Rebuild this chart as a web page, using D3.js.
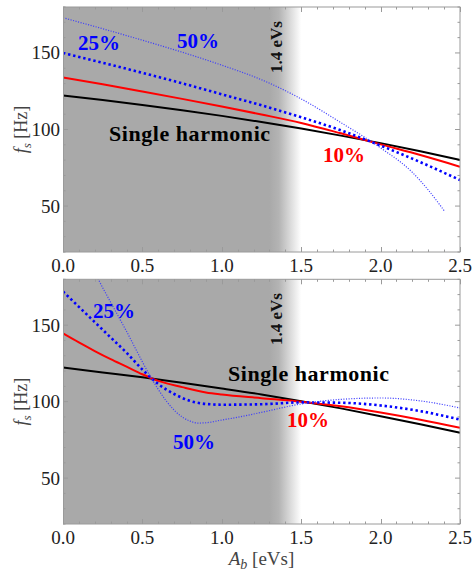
<!DOCTYPE html>
<html><head><meta charset="utf-8">
<script src="https://cdn.jsdelivr.net/npm/d3@7"></script>
<style>body{margin:0;background:#fff}</style>
</head><body>
<svg id="c" width="472" height="574" xmlns="http://www.w3.org/2000/svg"></svg>
<script>
// ---------- data ----------
const xDomain = [0, 2.5];
const yDomain = [20, 180];
const shadeSolidEnd = 1.3;
const shadeFadeEnd = 1.5;
const markerText = "1.4 eVs";
const xMajorTicks = [0, 0.5, 1.0, 1.5, 2.0, 2.5];
const yMajorTicks = [50, 100, 150];
const seriesNames = ["Single harmonic", "10%", "25%", "50%"];

// top panel
const topSingleX = [0, 0.25, 0.5, 0.75, 1.0, 1.25, 1.5, 1.75, 2.0, 2.25, 2.5];
const topSingleY = [122.2, 119.2, 116.0, 112.6, 108.9, 104.9, 100.6, 96.0, 91.1, 85.8, 80.1];
const topTenX = [0, 0.25, 0.5, 0.75, 1.0, 1.25, 1.5, 1.75, 2.0, 2.25, 2.5];
const topTenY = [134.0, 129.5, 124.8, 120.0, 115.0, 109.8, 104.3, 97.5, 90.3, 83.3, 75.7];
const topTwentyFiveX = [0, 0.25, 0.5, 0.75, 1.0, 1.25, 1.5, 1.75, 2.0, 2.25, 2.5];
const topTwentyFiveY = [150.0, 143.6, 137.0, 130.2, 123.0, 115.8, 108.0, 99.5, 89.5, 78.7, 67.0];
const topFiftyX = [0, 0.25, 0.5, 0.75, 1.0, 1.25, 1.5, 1.75, 2.0, 2.2, 2.3, 2.4];
const topFiftyY = [173.0, 165.8, 158.3, 150.5, 142.0, 132.5, 120.0, 104.5, 88.0, 72.0, 60.5, 47.0];

// bottom panel
const botSingleX = [0, 0.25, 0.5, 0.75, 1.0, 1.25, 1.5, 1.75, 2.0, 2.25, 2.5];
const botSingleY = [122.3, 119.1, 115.9, 112.3, 108.6, 104.7, 100.3, 95.6, 90.5, 85.2, 79.7];
const botTenX = [0, 0.1, 0.2, 0.3, 0.4, 0.5, 0.6, 0.75, 0.9, 1.0, 1.25, 1.5, 1.75, 2.0, 2.25, 2.5];
const botTenY = [144.6, 138.7, 133.1, 127.8, 122.9, 117.9, 113.6, 109.5, 106.0, 104.6, 102.3, 100.0, 97.0, 92.9, 88.2, 82.9];
const botTwentyFiveX = [0, 0.1, 0.2, 0.3, 0.4, 0.5, 0.6, 0.7, 0.8, 0.9, 1.0, 1.25, 1.5, 1.75, 2.0, 2.25, 2.5];
const botTwentyFiveY = [172.0, 162.0, 152.0, 142.0, 132.0, 121.0, 111.5, 105.0, 100.5, 98.5, 98.0, 98.3, 99.5, 99.3, 97.5, 93.8, 88.3];
const botFiftyX = [0.15, 0.2, 0.25, 0.3, 0.35, 0.4, 0.45, 0.5, 0.55, 0.6, 0.65, 0.7, 0.75, 0.8, 0.85, 0.9, 1.0, 1.1, 1.25, 1.5, 1.75, 2.0, 2.25, 2.5];
const botFiftyY = [194.0, 184.5, 174.5, 165.0, 155.5, 146.0, 136.0, 126.0, 116.5, 108.0, 100.5, 94.5, 90.0, 87.3, 86.0, 86.2, 88.0, 89.8, 93.0, 98.5, 101.5, 102.4, 100.5, 95.9];

// ---------- layout ----------
const svg = d3.select("#c");
svg.append("rect").attr("width", 472).attr("height", 574).attr("fill", "#fff");
const left = 63, right = 460;
const panels = [
  { top: 7, bottom: 252,
    series: [[topSingleX, topSingleY], [topTenX, topTenY], [topTwentyFiveX, topTwentyFiveY], [topFiftyX, topFiftyY]],
    labels: [
      { t: "25%", x: 0.094, y: 151.6, c: "#0000ff" },
      { t: "50%", x: 0.718, y: 152.9, c: "#0000ff" },
      { t: "Single harmonic", x: 0.29, y: 92.2, c: "#000", len: 161 },
      { t: "10%", x: 1.637, y: 79.1, c: "#ff0000" }
    ],
    marker: { x: 1.38, y: 136.9 }
  },
  { top: 279.3, bottom: 524,
    series: [[botSingleX, botSingleY], [botTenX, botTenY], [botTwentyFiveX, botTwentyFiveY], [botFiftyX, botFiftyY]],
    labels: [
      { t: "25%", x: 0.189, y: 154.4, c: "#0000ff" },
      { t: "50%", x: 0.693, y: 69.3, c: "#0000ff" },
      { t: "Single harmonic", x: 1.039, y: 113.2, c: "#000", len: 161 },
      { t: "10%", x: 1.411, y: 83.7, c: "#ff0000" }
    ],
    marker: { x: 1.38, y: 137.0 }
  }
];

const styles = [
  { stroke: "#000", w: 2, dash: null, op: 1 },
  { stroke: "#ff0000", w: 2, dash: null, op: 1 },
  { stroke: "#0000ff", w: 2.6, dash: "2.4,2.8", op: 1 },
  { stroke: "#3a3aff", w: 1.2, dash: "1.1,1.5", op: 0.95 }
];

const x = d3.scaleLinear().domain(xDomain).range([left, right]);
const defs = svg.append("defs");
const grad = defs.append("linearGradient").attr("id", "shade").attr("gradientUnits", "userSpaceOnUse")
  .attr("x1", x(0)).attr("x2", x(shadeFadeEnd)).attr("y1", 0).attr("y2", 0);
grad.append("stop").attr("offset", shadeSolidEnd / shadeFadeEnd).attr("stop-color", "#a9a9a9");
grad.append("stop").attr("offset", (shadeSolidEnd + 0.06) / shadeFadeEnd).attr("stop-color", "#b4b4b4");
grad.append("stop").attr("offset", 1).attr("stop-color", "#ffffff");

const serif = "'Liberation Serif', 'Times New Roman', serif";
const frameColor = "#9a9a9a";

panels.forEach((p, i) => {
  const y = d3.scaleLinear().domain(yDomain).range([p.bottom, p.top]);
  const g = svg.append("g");
  const cid = "clip" + i;
  defs.append("clipPath").attr("id", cid).append("rect")
    .attr("x", left).attr("y", p.top).attr("width", right - left).attr("height", p.bottom - p.top);

  // shading
  g.append("rect").attr("x", x(0)).attr("y", p.top).attr("width", x(shadeFadeEnd) - x(0))
    .attr("height", p.bottom - p.top).attr("fill", "url(#shade)");

  // ticks (all four sides, inside)
  const tg = g.append("g").attr("stroke", frameColor).attr("stroke-width", 1);
  d3.range(0, 26).forEach(k => {
    const v = k / 10, major = k % 5 === 0, len = major ? 5 : 2.5;
    const px = Math.round(x(v)) + 0.5;
    tg.append("line").attr("x1", px).attr("x2", px).attr("y1", p.bottom).attr("y2", p.bottom - len);
    tg.append("line").attr("x1", px).attr("x2", px).attr("y1", p.top).attr("y2", p.top + len);
  });
  d3.range(20, 181, 10).forEach(v => {
    const major = v % 50 === 0, len = major ? 5 : 2.5;
    const py = y(v);
    tg.append("line").attr("x1", left).attr("x2", left + len).attr("y1", py).attr("y2", py);
    tg.append("line").attr("x1", right).attr("x2", right - len).attr("y1", py).attr("y2", py);
  });

  // curves
  const line = d3.line().x(d => x(d[0])).y(d => y(d[1])).curve(d3.curveMonotoneX);
  const cg = g.append("g").attr("clip-path", `url(#${cid})`);
  p.series.forEach((s, j) => {
    const pts = s[0].map((xv, k) => [xv, s[1][k]]);
    const st = styles[j];
    cg.append("path").datum(pts).attr("d", line).attr("fill", "none")
      .attr("stroke", st.stroke).attr("stroke-width", st.w).attr("stroke-opacity", st.op)
      .attr("stroke-dasharray", st.dash).attr("stroke-linecap", "butt");
  });

  // frame
  g.append("rect").attr("x", left + 0.5).attr("y", p.top).attr("width", right - left - 0.5)
    .attr("height", p.bottom - p.top).attr("fill", "none").attr("stroke", frameColor).attr("stroke-width", 1);

  // tick labels
  xMajorTicks.forEach(v => {
    g.append("text").attr("x", x(v)).attr("y", p.bottom + 20).attr("text-anchor", "middle")
      .attr("font-family", serif).attr("font-size", 19).attr("fill", "#222").text(d3.format(".1f")(v));
  });
  yMajorTicks.forEach(v => {
    g.append("text").attr("x", left - 3).attr("y", y(v) + 6.5).attr("text-anchor", "end")
      .attr("font-family", serif).attr("font-size", 19).attr("fill", "#222").text(v);
  });

  // y axis label
  const yl = g.append("text").attr("transform", `translate(27,${(p.top + p.bottom) / 2}) rotate(-90)`)
    .attr("text-anchor", "middle").attr("font-family", serif).attr("font-size", 18).attr("fill", "#444");
  yl.append("tspan").attr("font-style", "italic").text("f");
  yl.append("tspan").attr("font-style", "italic").attr("font-size", 13).attr("dy", 4).text("s");
  yl.append("tspan").attr("dy", -4).text(" [Hz]");

  // annotations
  p.labels.forEach(l => {
    const t = g.append("text").attr("x", x(l.x)).attr("y", y(l.y)).attr("font-family", serif)
      .attr("font-weight", "bold").attr("font-size", l.len ? 22 : 21).attr("fill", l.c).text(l.t);
    if (l.len) t.attr("textLength", l.len).attr("lengthAdjust", "spacing");
  });
  g.append("text").attr("transform", `translate(${x(p.marker.x)},${y(p.marker.y)}) rotate(-90)`)
    .attr("font-family", serif).attr("font-weight", "bold").attr("font-size", 17)
    .attr("fill", "#111").text(markerText);
});

// x axis label
const xl = svg.append("text").attr("x", (left + right) / 2).attr("y", 565).attr("text-anchor", "middle")
  .attr("font-family", serif).attr("font-size", 19).attr("fill", "#444");
xl.append("tspan").attr("font-style", "italic").text("A");
xl.append("tspan").attr("font-style", "italic").attr("font-size", 14).attr("dy", 4).text("b");
xl.append("tspan").attr("dy", -4).text(" [eVs]");
</script>
</body></html>
